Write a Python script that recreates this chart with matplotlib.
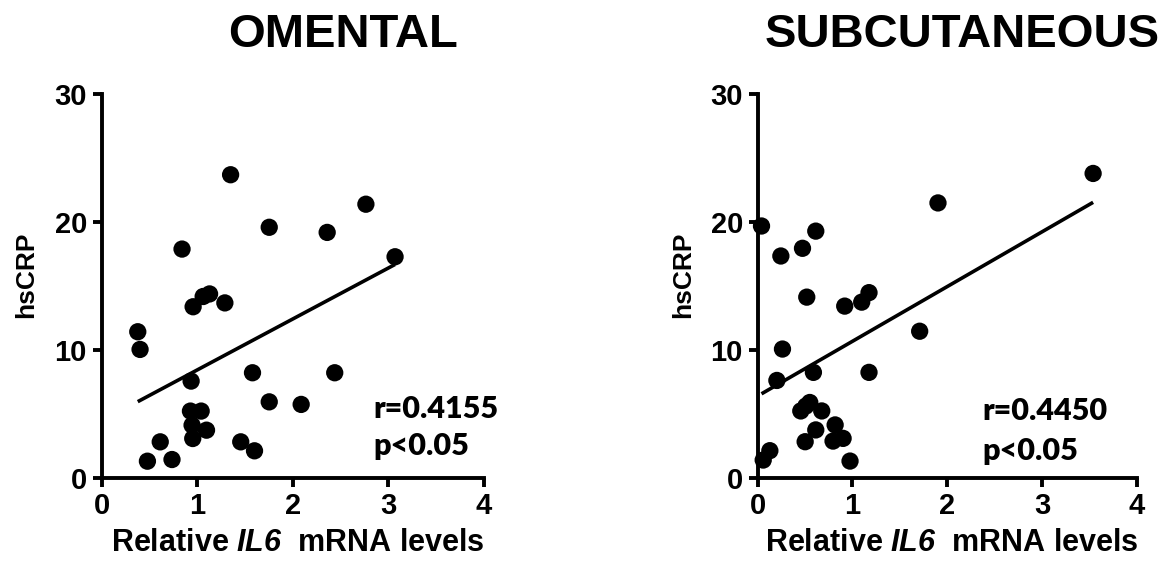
import numpy as np
import matplotlib
matplotlib.use("Agg")
import matplotlib.pyplot as plt

plt.rcParams["font.family"] = ["Liberation Sans", "DejaVu Sans"]
plt.rcParams["font.weight"] = "bold"
plt.rcParams["mathtext.fontset"] = "custom"
plt.rcParams["mathtext.rm"] = "Liberation Sans:bold"
plt.rcParams["mathtext.bfit"] = "Liberation Sans:italic:bold"

# --- data ---
omental_il6 = [1.35, 2.765, 1.754, 2.36, 0.842, 3.07, 1.13, 1.063, 0.958, 1.29,
               0.379, 0.403, 0.937, 1.579, 2.439, 1.754, 2.088, 0.93, 1.042,
               0.947, 1.098, 0.954, 0.614, 1.456, 1.60, 0.48, 0.737]
omental_crp = [23.7, 21.4, 19.6, 19.2, 17.9, 17.3, 14.4, 14.2, 13.4, 13.7,
               11.45, 10.07, 7.6, 8.25, 8.25, 5.98, 5.78, 5.26, 5.26,
               4.16, 3.77, 3.12, 2.86, 2.86, 2.16, 1.35, 1.48]

subcut_il6 = [3.537, 1.902, 0.042, 0.614, 0.474, 0.246, 1.175, 1.098, 0.919, 0.519,
              1.709, 0.263, 0.204, 0.589, 1.175, 0.551, 0.509, 0.456, 0.677,
              0.818, 0.614, 0.502, 0.796, 0.902, 0.975, 0.130, 0.060]
subcut_crp = [23.8, 21.5, 19.7, 19.3, 17.96, 17.36, 14.5, 13.76, 13.45, 14.15,
              11.49, 10.1, 7.65, 8.28, 8.28, 5.93, 5.65, 5.27, 5.27,
              4.18, 3.79, 2.87, 2.92, 3.13, 1.36, 2.17, 1.44]

panels = [
    ("OMENTAL", omental_il6, omental_crp, "r=0.4155", "p<0.05"),
    ("SUBCUTANEOUS", subcut_il6, subcut_crp, "r=0.4450", "p<0.05"),
]

x_ticks = [0, 1, 2, 3, 4]
y_ticks = [0, 10, 20, 30]

fig = plt.figure(figsize=(11.71, 5.71), dpi=100)

axes_rects = [[0.0867, 0.162, 0.3266, 0.6734], [0.6469, 0.162, 0.3241, 0.6734]]
title_x = [0.293, 0.8215]
stat_pos = [(0.71, 0.158, 0.062), (0.593, 0.153, 0.049)]

for i, (title, xs, ys, rtxt, ptxt) in enumerate(panels):
    ax = fig.add_axes(axes_rects[i])
    xs = np.array(xs)
    ys = np.array(ys)
    ax.scatter(xs, ys, s=155, color="black", edgecolors="none", clip_on=False, zorder=3)

    # linear regression line across the x range of the data
    slope, intercept = np.polyfit(xs, ys, 1)
    lx = np.array([xs.min(), xs.max()])
    ax.plot(lx, slope * lx + intercept, color="black", lw=2.6, solid_capstyle="butt")

    ax.set_xlim(0, 4)
    ax.set_ylim(0, 30)
    ax.set_xticks(x_ticks)
    ax.set_yticks(y_ticks)
    for s in ["top", "right"]:
        ax.spines[s].set_visible(False)
    for s in ["left", "bottom"]:
        ax.spines[s].set_linewidth(2.8)
    ax.tick_params(axis="both", direction="out", length=6.5, width=2.8, labelsize=21)
    ax.tick_params(axis="x", pad=3)
    ax.tick_params(axis="y", pad=4)
    for lab in ax.get_xticklabels() + ax.get_yticklabels():
        lab.set_fontweight("bold")

    ax.set_xlabel(r"Relative $\mathbfit{IL6}$  mRNA levels", fontsize=22, fontweight="bold")
    ax.xaxis.set_label_coords(0.513, -0.128)
    ax.set_ylabel("hsCRP", fontsize=19, fontweight="bold")
    ax.yaxis.set_label_coords(-0.165, 0.53)

    sx, ry, py = stat_pos[i]
    ax.text(sx, ry, rtxt, transform=ax.transAxes, fontsize=22, fontweight="heavy",
            family="Lato", va="baseline", ha="left")
    ax.text(sx, py, ptxt, transform=ax.transAxes, fontsize=22, fontweight="heavy",
            family="Lato", va="baseline", ha="left")

    fig.text(title_x[i], 1 - 47 / 571, title, fontsize=34, fontweight="bold",
             ha="center", va="baseline")

fig.savefig("out.png", dpi=100)
